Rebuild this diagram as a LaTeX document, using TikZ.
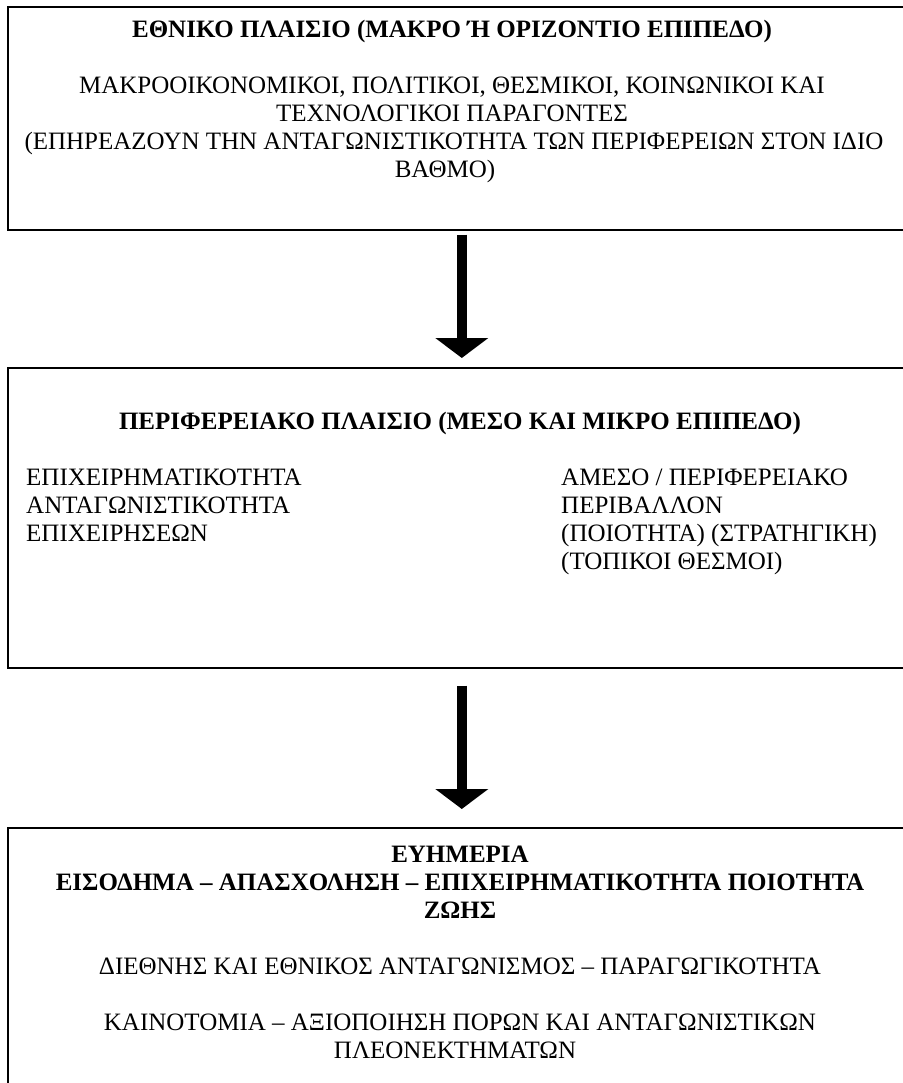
\documentclass[tikz,border=0pt]{standalone}
\usepackage{fontspec}
\setmainfont{Liberation Serif}
\usetikzlibrary{arrows.meta}

\tikzset{
  boxframe/.style={draw=black, line width=1.6pt, rectangle, anchor=north west, minimum width=908pt, inner sep=0pt},
  txt/.style={anchor=base, inner sep=0pt, font=\fontsize{25}{28}\selectfont},
  txtbold/.style={txt, font=\fontsize{25}{28}\selectfont\bfseries},
  txtleft/.style={txt, anchor=base west},
  bigarrow/.style={draw=black, line width=10pt, -{Triangle[width=52pt, length=20pt]}}
}

\begin{document}
\begin{tikzpicture}[x=1pt, y=-1pt]
\useasboundingbox (0,0) rectangle (902,1083);
\node[boxframe, minimum height=223pt] (B1) at (7,6) {};
\node[boxframe, minimum height=300pt] (B2) at (7,367) {};
\node[boxframe, minimum height=300pt] (B3) at (7,827) {};
\node[txtbold] (B1T) at (452,38) {ΕΘΝΙΚΟ ΠΛΑΙΣΙΟ (ΜΑΚΡΟ Ή ΟΡΙΖΟΝΤΙΟ ΕΠΙΠΕΔΟ)};
\node[txt] (B1L1) at (452,94) {ΜΑΚΡΟΟΙΚΟΝΟΜΙΚΟΙ, ΠΟΛΙΤΙΚΟΙ, ΘΕΣΜΙΚΟΙ, ΚΟΙΝΩΝΙΚΟΙ ΚΑΙ};
\node[txt] (B1L2) at (452,122) {ΤΕΧΝΟΛΟΓΙΚΟΙ ΠΑΡΑΓΟΝΤΕΣ};
\node[txt] (B1L3) at (454,150) {(ΕΠΗΡΕΑΖΟΥΝ ΤΗΝ ΑΝΤΑΓΩΝΙΣΤΙΚΟΤΗΤΑ ΤΩΝ ΠΕΡΙΦΕΡΕΙΩΝ ΣΤΟΝ ΙΔΙΟ};
\node[txt] (B1L4) at (445,178) {ΒΑΘΜΟ)};
\node[txtbold] (B2T) at (460,429) {ΠΕΡΙΦΕΡΕΙΑΚΟ ΠΛΑΙΣΙΟ (ΜΕΣΟ ΚΑΙ ΜΙΚΡΟ ΕΠΙΠΕΔΟ)};
\node[txtleft] (B2A1) at (26,485) {ΕΠΙΧΕΙΡΗΜΑΤΙΚΟΤΗΤΑ};
\node[txtleft] (B2A2) at (26,513) {ΑΝΤΑΓΩΝΙΣΤΙΚΟΤΗΤΑ};
\node[txtleft] (B2A3) at (26,541) {ΕΠΙΧΕΙΡΗΣΕΩΝ};
\node[txtleft] (B2B1) at (561,485) {ΑΜΕΣΟ / ΠΕΡΙΦΕΡΕΙΑΚΟ};
\node[txtleft] (B2B2) at (561,513) {ΠΕΡΙΒΑΛΛΟΝ};
\node[txtleft] (B2B3) at (561,541) {(ΠΟΙΟΤΗΤΑ) (ΣΤΡΑΤΗΓΙΚΗ)};
\node[txtleft] (B2B4) at (561,569) {(ΤΟΠΙΚΟΙ ΘΕΣΜΟΙ)};
\node[txtbold] (B3T1) at (460,862) {ΕΥΗΜΕΡΙΑ};
\node[txtbold] (B3T2) at (460,890) {ΕΙΣΟΔΗΜΑ – ΑΠΑΣΧΟΛΗΣΗ – ΕΠΙΧΕΙΡΗΜΑΤΙΚΟΤΗΤΑ ΠΟΙΟΤΗΤΑ};
\node[txtbold] (B3T3) at (460,918) {ΖΩΗΣ};
\node[txt] (B3L1) at (460,974) {ΔΙΕΘΝΗΣ ΚΑΙ ΕΘΝΙΚΟΣ ΑΝΤΑΓΩΝΙΣΜΟΣ – ΠΑΡΑΓΩΓΙΚΟΤΗΤΑ};
\node[txt] (B3L2) at (460,1030) {ΚΑΙΝΟΤΟΜΙΑ – ΑΞΙΟΠΟΙΗΣΗ ΠΟΡΩΝ ΚΑΙ ΑΝΤΑΓΩΝΙΣΤΙΚΩΝ};
\node[txt] (B3L3) at (455,1058) {ΠΛΕΟΝΕΚΤΗΜΑΤΩΝ};
\draw[bigarrow, shorten <=4pt, shorten >=9pt] (B1.south) -- (B2.north);
\draw[bigarrow, shorten <=17pt, shorten >=18pt] (B2.south) -- (B3.north);
\end{tikzpicture}
\end{document}
